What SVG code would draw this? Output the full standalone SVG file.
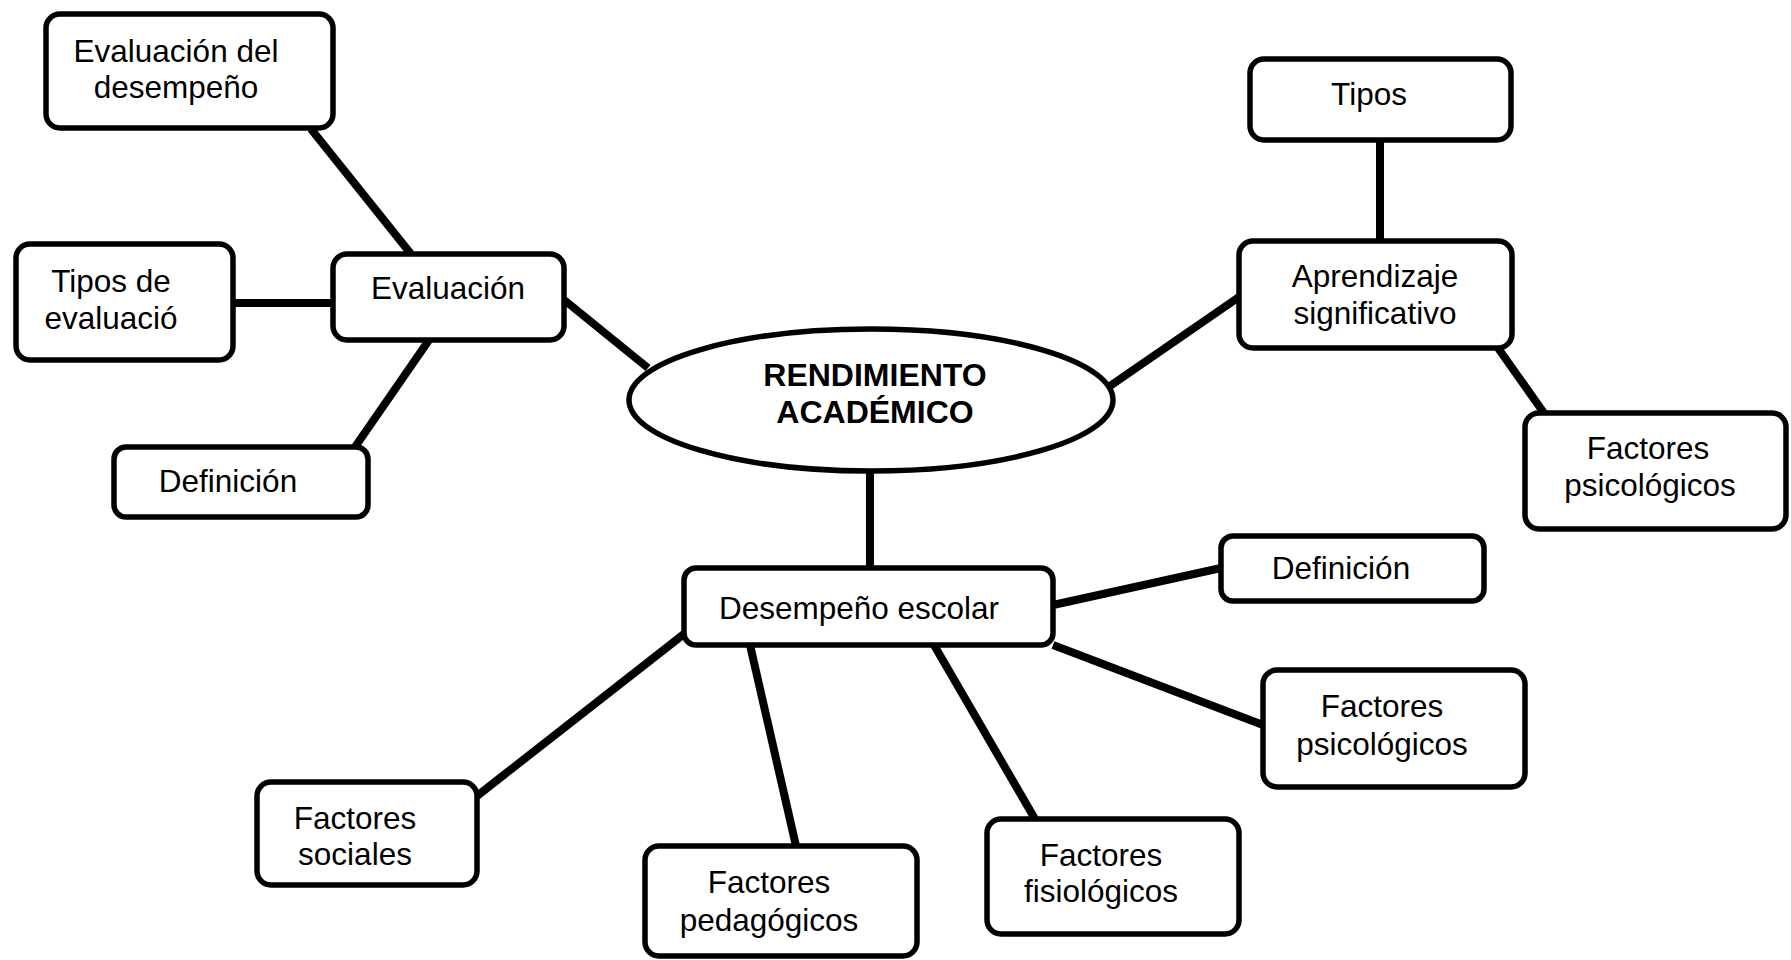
<svg xmlns="http://www.w3.org/2000/svg" width="1791" height="960" viewBox="0 0 1791 960">
<style>
.box{fill:#fff;stroke:#000;stroke-width:5.5}
.ln{stroke:#000;stroke-width:8;fill:none}
text{font-family:"Liberation Sans",Arial,sans-serif;font-size:31.5px;fill:#000;text-anchor:middle}
.b{font-weight:bold;font-size:32px}
</style>
<rect width="1791" height="960" fill="#fff"/>
<g id="connectors">
<line class="ln" x1="311" y1="129" x2="411" y2="254"/>
<line class="ln" x1="233" y1="303" x2="332" y2="303"/>
<line class="ln" x1="429" y1="340" x2="355" y2="447"/>
<line class="ln" x1="563" y1="299" x2="648" y2="368"/>
<line class="ln" x1="1110" y1="386" x2="1239" y2="297"/>
<line class="ln" x1="1380" y1="140" x2="1380" y2="241"/>
<line class="ln" x1="1498" y1="348" x2="1544" y2="413"/>
<line class="ln" x1="870" y1="471" x2="870" y2="568"/>
<line class="ln" x1="1053" y1="605" x2="1221" y2="568"/>
<line class="ln" x1="1053" y1="645" x2="1263" y2="725"/>
<line class="ln" x1="934" y1="645" x2="1035" y2="819"/>
<line class="ln" x1="750" y1="645" x2="796" y2="846"/>
<line class="ln" x1="684" y1="634" x2="477" y2="796"/>
</g>
<g id="n-eval-desemp"><rect class="box" x="46" y="14" width="287" height="114" rx="14"/><text x="176" y="62">Evaluación del</text><text x="176" y="98">desempeño</text></g>
<g id="n-tipos-eval"><rect class="box" x="16" y="244" width="217" height="116" rx="14"/><text x="111" y="292">Tipos de</text><text x="111" y="329">evaluació</text></g>
<g id="n-evaluacion"><rect class="box" x="333" y="254" width="231" height="86" rx="14"/><text x="448" y="299">Evaluación</text></g>
<g id="n-def-left"><rect class="box" x="114" y="447" width="254" height="70" rx="12"/><text x="228" y="492">Definición</text></g>
<g id="n-center"><ellipse class="box" cx="871" cy="400" rx="242" ry="71"/><text class="b" x="875" y="386">RENDIMIENTO</text><text class="b" x="875" y="423">ACADÉMICO</text></g>
<g id="n-tipos"><rect class="box" x="1250" y="59" width="261" height="81" rx="14"/><text x="1369" y="105">Tipos</text></g>
<g id="n-aprend"><rect class="box" x="1239" y="241" width="273" height="107" rx="14"/><text x="1375" y="287">Aprendizaje</text><text x="1375" y="324">significativo</text></g>
<g id="n-psic-up"><rect class="box" x="1525" y="413" width="261" height="116" rx="14"/><text x="1648" y="459">Factores</text><text x="1650" y="496">psicológicos</text></g>
<g id="n-desemp"><rect class="box" x="684" y="568" width="369" height="77" rx="12"/><text x="859" y="619">Desempeño escolar</text></g>
<g id="n-def-right"><rect class="box" x="1221" y="536" width="263" height="65" rx="12"/><text x="1341" y="579">Definición</text></g>
<g id="n-psic-low"><rect class="box" x="1263" y="670" width="262" height="117" rx="14"/><text x="1382" y="717">Factores</text><text x="1382" y="755">psicológicos</text></g>
<g id="n-social"><rect class="box" x="257" y="782" width="220" height="103" rx="14"/><text x="355" y="829">Factores</text><text x="355" y="865">sociales</text></g>
<g id="n-pedag"><rect class="box" x="645" y="846" width="272" height="110" rx="14"/><text x="769" y="893">Factores</text><text x="769" y="931">pedagógicos</text></g>
<g id="n-fisio"><rect class="box" x="987" y="819" width="252" height="115" rx="14"/><text x="1101" y="866">Factores</text><text x="1101" y="902">fisiológicos</text></g>
</svg>
